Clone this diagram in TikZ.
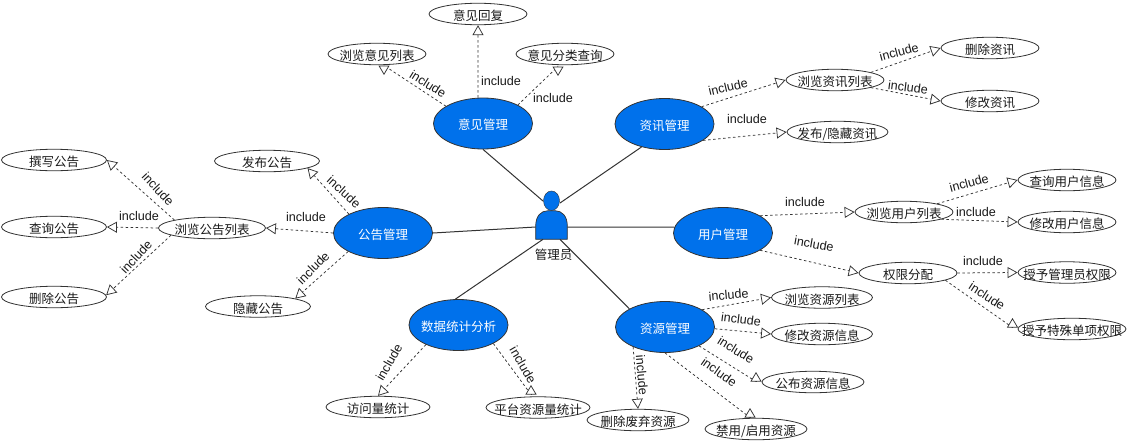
\documentclass[tikz,border=0pt]{standalone}
\usepackage{fontspec}
\setmainfont{Liberation Sans}
\newfontfamily\cjk{Noto Sans CJK SC}
\usetikzlibrary{shapes.geometric,arrows.meta}
\definecolor{caseblue}{HTML}{0071EB}
\definecolor{lineink}{HTML}{333333}
\tikzset{
    bigcase/.style={ellipse, draw=lineink, line width=0.8pt, fill=caseblue, text=white, minimum width=99pt, minimum height=51pt, inner xsep=-30pt, inner ysep=-8pt, text height=13pt, text depth=0.5pt, font=\cjk\fontsize{12.5}{14}\selectfont},
    subcase/.style={ellipse, draw=lineink, line width=0.8pt, fill=white, text=black!90, minimum width=#1, minimum height=21.5pt, inner xsep=-40pt, inner ysep=-8pt, text height=14pt, text depth=0.5pt, font=\cjk\fontsize{12.5}{14}\selectfont},
    subcase/.default=98pt,
    assoc/.style={draw=lineink, line width=1pt},
    incl/.style={draw=lineink, line width=0.75pt, dash pattern=on 2.5pt off 2.5pt, -{Triangle[fill=white, length=10pt, width=11pt]}},
    inclplain/.style={draw=lineink, line width=0.75pt, dash pattern=on 2.5pt off 2.5pt},
    inclhead/.style={draw=lineink, line width=0.75pt, -{Triangle[fill=white, length=9.5pt, width=11pt]}},
    incllabel/.style={inner sep=0pt, text=black!90, font=\fontsize{12.6}{14}\selectfont}
}
\begin{document}
\begin{tikzpicture}[x=1pt, y=-1pt]
    \useasboundingbox (0,0) rectangle (1134,442);

    \node[bigcase] (yijian) at (483,123.5) {意见管理};
    \node[bigcase] (zixun) at (664.5,124) {资讯管理};
    \node[bigcase] (gonggao) at (383,233) {公告管理};
    \node[bigcase] (yonghu) at (723,233) {用户管理};
    \node[bigcase] (tongji) at (458.5,325) {数据统计分析};
    \node[bigcase] (ziyuan) at (665,327) {资源管理};

    \node[subcase] (yjhf) at (478,14) {意见回复};
    \node[subcase] (yjlb) at (377,54) {浏览意见列表};
    \node[subcase] (yjcx) at (565,54) {意见分类查询};

    \node[subcase] (zxlb) at (835,80) {浏览资讯列表};
    \node[subcase] (zxsc) at (990,48) {删除资讯};
    \node[subcase] (zxxg) at (990,101) {修改资讯};
    \node[subcase=101pt] (zxfb) at (837.5,132) {发布/隐藏资讯};

    \node[subcase] (yhlb) at (904,212) {浏览用户列表};
    \node[subcase] (yhcx) at (1067,180) {查询用户信息};
    \node[subcase] (yhxg) at (1067,222) {修改用户信息};
    \node[subcase] (qxfp) at (908,273) {权限分配};
    \node[subcase] (qxgl) at (1067,272.5) {授予管理员权限};
    \node[subcase=108pt] (qxts) at (1072,329) {授予特殊单项权限};

    \node[subcase=101pt] (zylb) at (822,297.5) {浏览资源列表};
    \node[subcase=101pt] (zyxg) at (822,334) {修改资源信息};
    \node[subcase=102pt] (zygb) at (813,382) {公布资源信息};
    \node[subcase=102pt] (zyjy) at (756,429) {禁用/启用资源};
    \node[subcase=102pt] (zysc) at (638,420) {删除废弃资源};

    \node[subcase=104pt] (tjfw) at (378,407) {访问量统计};
    \node[subcase=104pt] (tjpt) at (538,407.5) {平台资源量统计};

    \node[subcase=105pt] (ggzx) at (54,160) {撰写公告};
    \node[subcase=105pt] (ggcx) at (54,227) {查询公告};
    \node[subcase=105pt] (ggsc) at (54,297) {删除公告};
    \node[subcase=107pt] (gglb) at (212,228) {浏览公告列表};
    \node[subcase=105pt] (ggfb) at (267,161) {发布公告};
    \node[subcase=105pt] (ggyc) at (258,306.5) {隐藏公告};

    \node[ellipse, draw=lineink, fill=caseblue, minimum width=16pt, minimum height=19.5pt, inner sep=0pt] (adminhead) at (551.5,200.7) {};
    \path[draw=lineink, fill=caseblue, line width=0.7pt] (535.7,239.3) -- (535.7,226) .. controls (535.7,216) and (541,210.7) .. (548,210.7) -- (555,210.7) .. controls (562,210.7) and (567.3,216) .. (567.3,226) -- (567.3,239.3) -- cycle;
    \node[inner sep=0pt, text=black!90, font=\cjk\fontsize{12.5}{14}\selectfont] (adminlabel) at (553.5,255) {管理员};

    \coordinate (adminnw) at (543,201);
    \coordinate (adminne) at (560,203);
    \coordinate (adminw) at (535.7,227);
    \coordinate (admine) at (567.3,227);
    \coordinate (adminsw) at (543,239.3);
    \coordinate (adminse) at (560,239.3);

    \draw[assoc] (yijian.270) -- (adminnw);
    \draw[assoc] (zixun.225) -- (adminne);
    \draw[assoc] (gonggao.0) -- (adminw);
    \draw[assoc] (yonghu.173) -- (admine);
    \draw[assoc] (tongji.97) -- (adminsw);
    \draw[assoc] (ziyuan.153) -- (adminse);

    \coordinate (headyjlb) at (384,65.5);
    \coordinate (headyjcx) at (558,66.5);
    \coordinate (headzygb) at (756,381.5);
    \coordinate (headzyjy) at (750,417.5);
    \coordinate (headqxts) at (1012.5,327.5);
    \coordinate (headtjpt) at (531,394.5);

    \draw[incl] (yijian.101) -- (yjhf.270);
    \draw[inclplain] (yijian.155) -- (headyjlb);
    \draw[inclhead] (headyjlb) -- ++(0,9.5);
    \draw[inclplain] (yijian.28) -- (headyjcx);
    \draw[inclhead] (headyjcx) -- ++(0,9.5);

    \draw[incl] (zixun.25) -- (zxlb.180);
    \draw[incl] (zixun.-23) -- (zxfb.180);
    \draw[incl] (zxlb.12) -- (zxsc.180);
    \draw[incl] (zxlb.-12) -- (zxxg.180);

    \draw[incl] (yonghu.25) -- (yhlb.180);
    \draw[incl] (yonghu.-25) -- (qxfp.180);
    \draw[incl] (yhlb.14) -- (yhcx.180);
    \draw[incl] (yhlb.-11) -- (yhxg.180);
    \draw[incl] (qxfp.0) -- (qxgl.180);
    \draw[inclplain] (qxfp.-11) -- (headqxts);
    \draw[inclhead] (headqxts) -- ++(0,-9.5);

    \draw[incl] (ziyuan.25) -- (zylb.180);
    \draw[incl] (ziyuan.-2) -- (zyxg.180);
    \draw[inclplain] (ziyuan.-29) -- (headzygb);
    \draw[inclhead] (headzygb) -- ++(0,-9.5);
    \draw[inclplain] (ziyuan.270) -- (headzyjy);
    \draw[inclhead] (headzyjy) -- ++(0,-9.5);
    \draw[incl] (ziyuan.212) -- (zysc.90);

    \draw[incl] (tongji.211) -- (tjfw.90);
    \draw[inclplain] (tongji.-28) -- (headtjpt);
    \draw[inclhead] (headtjpt) -- ++(0,-9.5);

    \draw[incl] (gonggao.151) -- (ggfb.-10);
    \draw[incl] (gonggao.180) -- (gglb.0);
    \draw[incl] (gonggao.208) -- (ggyc.12);
    \draw[incl] (gglb.168) -- (ggzx.0);
    \draw[incl] (gglb.180) -- (ggcx.0);
    \draw[incl] (gglb.190) -- (ggsc.2);

    \node[incllabel, rotate=-32] (lyjlb) at (428,84) {include};
    \node[incllabel] (lyjhf) at (501,81) {include};
    \node[incllabel] (lyjcx) at (553,98) {include};

    \node[incllabel, rotate=13] (lzxlb) at (728,87) {include};
    \node[incllabel] (lzxfb) at (747,119) {include};
    \node[incllabel, rotate=15] (lzxsc) at (899,52) {include};
    \node[incllabel, rotate=-7] (lzxxg) at (908,87) {include};

    \node[incllabel] (lyhlb) at (805,202) {include};
    \node[incllabel, rotate=-10] (lqxfp) at (814,244) {include};
    \node[incllabel, rotate=15] (lyhcx) at (969,183) {include};
    \node[incllabel] (lyhxg) at (976,212) {include};
    \node[incllabel] (lqxgl) at (983,261) {include};
    \node[incllabel, rotate=-33] (lqxts) at (987,296) {include};

    \node[incllabel, rotate=5] (lzylb) at (728.5,295) {include};
    \node[incllabel, rotate=-7] (lzyxg) at (741,319) {include};
    \node[incllabel, rotate=-32] (lzygb) at (736,350) {include};
    \node[incllabel, rotate=-35] (lzyjy) at (719,372) {include};
    \node[incllabel, rotate=-85] (lzysc) at (642,375) {include};

    \node[incllabel, rotate=60] (ltjfw) at (389,362) {include};
    \node[incllabel, rotate=-60] (ltjpt) at (523,365) {include};

    \node[incllabel, rotate=-42] (lggfb) at (344,192) {include};
    \node[incllabel] (lgglb) at (306,217) {include};
    \node[incllabel, rotate=45] (lggyc) at (313,268) {include};
    \node[incllabel, rotate=-47] (lggzx) at (158,189) {include};
    \node[incllabel] (lggcx) at (139,216) {include};
    \node[incllabel, rotate=47] (lggsc) at (136,257) {include};
\end{tikzpicture}
\end{document}
